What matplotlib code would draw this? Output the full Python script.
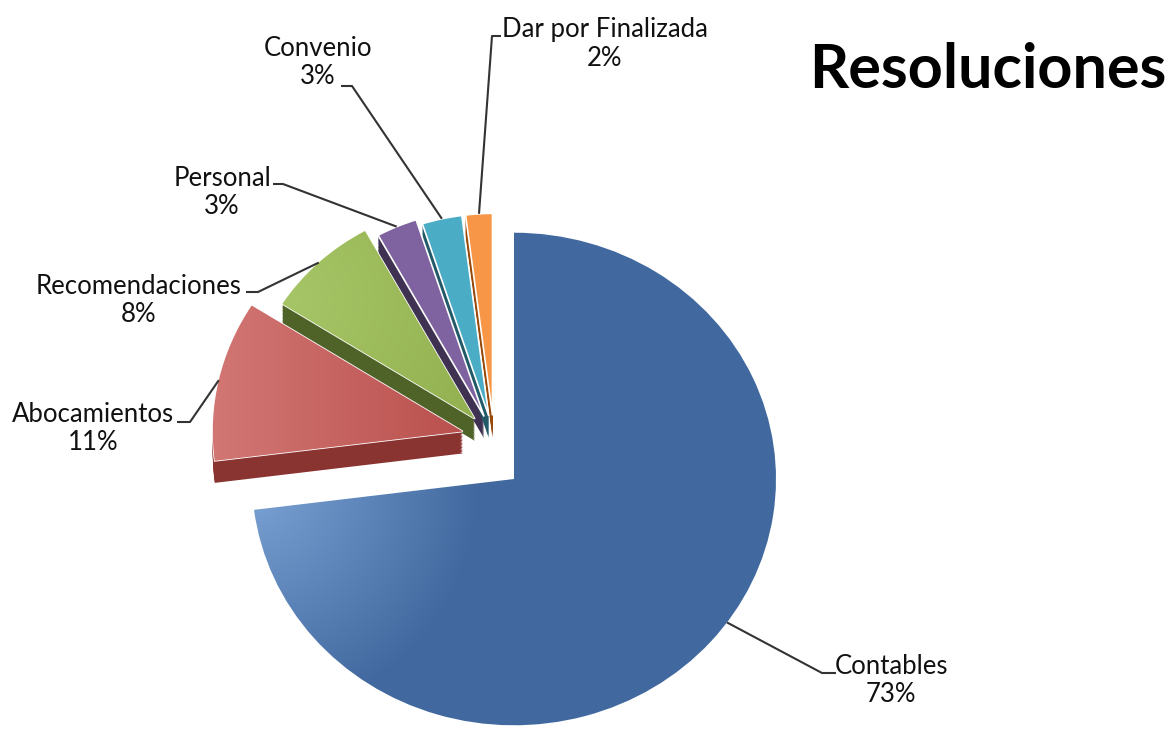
import numpy as np
import matplotlib.pyplot as plt
from matplotlib.colors import LinearSegmentedColormap

# slices, clockwise from 12 o'clock
labels = ['Contables', 'Abocamientos', 'Recomendaciones', 'Personal', 'Convenio', 'Dar por Finalizada']
values = [73, 11, 8, 3, 3, 2]

top_colors = ['#41699f', '#c35f5c', '#9bbb59', '#7f63a1', '#4bacc6', '#f79646']
side_colors = ['none', '#8a3431', '#4f6228', '#3f3151', '#215968', '#984807']

W, H = 1169, 742
SQUASH = 0.94  # vertical flattening, fake 3d tilt
FONT = 'Lato'


def to_data(x, y):
    """pixel (y down) -> data coords"""
    return x, (H - y) / SQUASH


fig = plt.figure(figsize=(W / 100, H / 100), dpi=100)
ax = fig.add_axes([0, 0, 1, 1])

hub = to_data(494, 438)
R = 250
explode_px = [0, 32, 28, 25, 24, 24]   # pie() takes explode in data units
radii = [262, 250, 228, 220, 215, 215]
blue_center = to_data(514, 479)
DEPTH = 22


def draw_pie(colors, drop=0, edge='none', z=2):
    cx, cy = hub
    wedges, _ = ax.pie(values, colors=colors, startangle=90, counterclock=False,
                       radius=R, center=(cx, cy - drop / SQUASH),
                       explode=explode_px, frame=True,
                       wedgeprops=dict(linewidth=1.2, edgecolor=edge))
    for w, r in zip(wedges, radii):
        w.set_radius(r)
        w.set_zorder(z)
    wedges[0].set_center((blue_center[0], blue_center[1] - drop / SQUASH))
    return wedges


# extruded sides of the small slices
for d in np.linspace(1, DEPTH, 16):
    draw_pie(side_colors, drop=d, z=1)

wedges = draw_pie(top_colors, edge='white', z=2)

gx, gy = np.meshgrid(np.linspace(0, W, 400), np.linspace(0, H, 260))


def shade(wedge, c0, c1, t):
    cmap = LinearSegmentedColormap.from_list('g', [c0, c1])
    im = ax.imshow(np.clip(t, 0, 1), cmap=cmap, vmin=0, vmax=1, origin='upper',
                   extent=[0, W, 0, H / SQUASH], aspect='auto', zorder=2.5,
                   interpolation='bilinear')
    im.set_clip_path(wedge)


# blue: light glow near the left rim only
shade(wedges[0], '#7aa2d4', '#41699f', np.hypot(gx - 250, gy - 490) / 230)
# red / green: lighter towards the outer left edge
shade(wedges[1], '#d27774', '#b9504d', (gx - 210) / 260)
shade(wedges[2], '#a6c566', '#92b04f', np.hypot(gx - 290, gy - 300) / 220)

# labels and leader lines
label_pos = [(891, 681), (93, 429), (139, 301), (222, 193), (318, 62), (605, 44)]
elbows = [(822, 673), (190, 422), (258, 292), (283, 184), (352, 86), (492, 36)]
ends = [(836, 673), (177, 422), (246, 292), (273, 184), (341, 86), (501, 36)]
anchor_frac = [0.478, 0.5, 0.5, 0.5, 0.5, 0.5]

for w, lab, v, pos, el, en, f in zip(wedges, labels, values, label_pos, elbows, ends, anchor_frac):
    # counterclock=False -> theta2 is the start of the slice
    ang = np.deg2rad(w.theta2 - f * (w.theta2 - w.theta1))
    cx, cy = w.center
    ax_, ay_ = cx + w.r * np.cos(ang), cy + w.r * np.sin(ang)
    ex, ey = to_data(*el)
    nx, ny = to_data(*en)
    ax.plot([ax_, ex, nx], [ay_, ey, ny], color='#333333', lw=1.5, zorder=4,
            solid_capstyle='butt')
    tx, ty = to_data(*pos)
    ax.text(tx, ty, f'{lab}\n{v}%', ha='center', va='center', fontsize=18.5,
            family=FONT, color='#111111', linespacing=1.15, zorder=5)

tx, ty = to_data(988, 70)
ax.text(tx, ty, 'Resoluciones', ha='center', va='center', fontsize=44,
        family=FONT, fontweight='bold', color='black')

ax.set_xlim(0, W)
ax.set_ylim(0, H / SQUASH)
ax.set_aspect('auto')
ax.axis('off')

fig.savefig('out.png', dpi=100)
